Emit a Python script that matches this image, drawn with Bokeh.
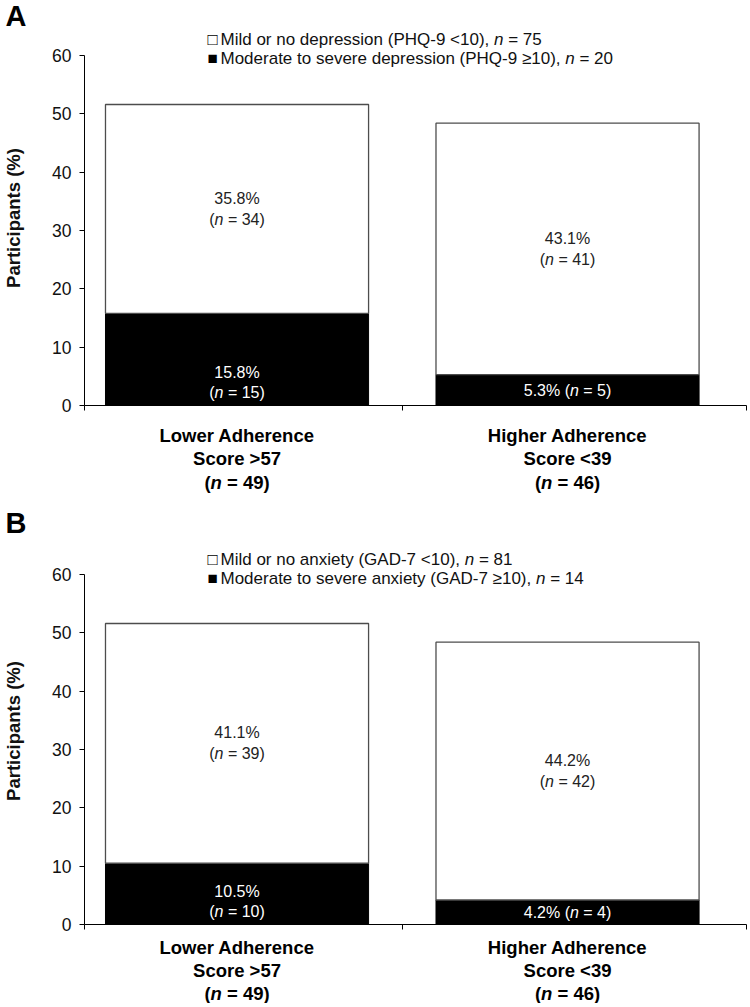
from bokeh.plotting import figure
from bokeh.models import Range1d, Label, FixedTicker, ColumnDataSource
from bokeh.layouts import column
from bokeh.embed import file_html
from bokeh.resources import INLINE

FONT = "Liberation Sans"

# ---------------- data ----------------
categories = ["Lower Adherence", "Higher Adherence"]
score_labels = ["Score >57", "Score <39"]
group_n = [49, 46]
y_ticks = [0, 10, 20, 30, 40, 50, 60]

a_letter = "A"
a_mild_name = "Mild or no depression (PHQ-9 <10), "
a_mod_name = "Moderate to severe depression (PHQ-9 \u226510), "
a_mild_total = 75
a_mod_total = 20
a_mild_pct = [35.8, 43.1]
a_mild_n = [34, 41]
a_mod_pct = [15.8, 5.3]
a_mod_n = [15, 5]

b_letter = "B"
b_mild_name = "Mild or no anxiety (GAD-7 <10), "
b_mod_name = "Moderate to severe anxiety (GAD-7 \u226510), "
b_mild_total = 81
b_mod_total = 14
b_mild_pct = [41.1, 44.2]
b_mild_n = [39, 42]
b_mod_pct = [10.5, 4.2]
b_mod_n = [10, 4]

# ---------------- text metrics (Arial / Liberation Sans, per 1000 em) ----------------
REG = {' ': 278, '(': 333, ')': 333, ',': 278, '-': 333, '.': 278, '<': 584, '=': 584, '>': 584,
       '%': 889, '\u2265': 549, 'A': 667, 'B': 667, 'C': 722, 'D': 722, 'E': 667, 'G': 778, 'H': 722,
       'L': 556, 'M': 833, 'P': 667, 'Q': 778, 'S': 667, 'a': 556, 'b': 556, 'c': 500, 'd': 556,
       'e': 556, 'f': 278, 'g': 556, 'h': 556, 'i': 222, 'j': 222, 'k': 500, 'l': 222, 'm': 833,
       'n': 556, 'o': 556, 'p': 556, 'q': 556, 'r': 333, 's': 500, 't': 278, 'u': 556, 'v': 500,
       'w': 722, 'x': 500, 'y': 500, 'z': 500}
BOLD = {' ': 278, '(': 333, ')': 333, '=': 584, '<': 584, '>': 584, '%': 889, 'A': 722, 'H': 722,
        'L': 611, 'S': 667, 'P': 667, 'a': 556, 'c': 556, 'd': 611, 'e': 556, 'g': 611, 'h': 611,
        'i': 278, 'n': 611, 'o': 611, 'r': 389, 's': 556, 't': 333, 'w': 778, 'p': 611}
for _d in "0123456789":
    REG[_d] = 556
    BOLD[_d] = 556


def text_width(s, bold, fs):
    table = BOLD if bold else REG
    return sum(table.get(c, 556) for c in s) * fs / 1000.0


def rich_label(p, x, y, parts, fs, bold, color, align, x_off, y_off):
    widths = [text_width(t, bold, fs) for t, _ in parts]
    total = sum(widths)
    cur = x_off - total / 2.0 if align == "center" else x_off
    for (t, it), w in zip(parts, widths):
        lead = len(t) - len(t.lstrip(" "))
        s = t.strip(" ")
        if s:
            if bold and it:
                style = "bold italic"
            elif bold:
                style = "bold"
            elif it:
                style = "italic"
            else:
                style = "normal"
            p.add_layout(Label(x=x, y=y, x_offset=cur + text_width(" " * lead, bold, fs),
                               y_offset=y_off, text=s, text_align="left", text_baseline="middle",
                               text_font=FONT, text_font_size=f"{fs}px", text_font_style=style,
                               text_color=color))
        cur += w


W = 748
BORDER_L = 82
PX_PER_UNIT = 331.5
X_LO = 0.0385
X_END = X_LO + (W - BORDER_L) / PX_PER_UNIT
X_TICK_HI = 2.0415
XS = [0.5, 1.5]
BAR_W = 0.796
Y_PX = 350 / 60.0


def blank_fig(height, x_range, y_range, border_left, align_frame):
    f = figure(width=W, height=height, output_backend="svg", toolbar_location=None,
               x_range=x_range, y_range=y_range, x_axis_type=None, y_axis_type=None,
               min_border_left=border_left, min_border_right=0, min_border_top=0,
               min_border_bottom=0, frame_align=align_frame)
    f.title.visible = False
    f.outline_line_color = None
    f.xgrid.visible = False
    f.ygrid.visible = False
    f.background_fill_color = "white"
    f.border_fill_color = "white"
    return f


def make_panel(letter, head_h, letter_mid, top_extra_px, legend_offs, foot_h, foot_lines,
               mild_name, mild_total, mod_name, mod_total, mild_pct, mild_n, mod_pct, mod_n):
    xr = Range1d(X_LO, X_END)

    # header with panel letter (pixel coordinates over the full width, y measured from top)
    head = blank_fig(head_h, Range1d(0, W), Range1d(-head_h, 0), 0, False)
    head.add_layout(Label(x=5, y=-letter_mid, text=letter,
                          text_align="left", text_baseline="middle", text_font=FONT,
                          text_font_size="29px", text_font_style="bold", text_color="black"))

    # main chart
    y_top = 60 + top_extra_px / Y_PX
    frame_h = int(round(y_top * Y_PX))
    p = figure(width=W, height=frame_h + 10, output_backend="svg", toolbar_location=None,
               x_range=xr, y_range=Range1d(0, y_top),
               min_border_left=BORDER_L, min_border_right=0, min_border_top=0,
               min_border_bottom=10)
    p.background_fill_color = "white"
    p.border_fill_color = "white"
    p.outline_line_color = None
    p.xgrid.visible = False
    p.ygrid.visible = False

    src = ColumnDataSource(dict(
        x=XS,
        mod_top=mod_pct,
        mild_top=[m + w for m, w in zip(mod_pct, mild_pct)],
    ))
    p.vbar(x="x", width=BAR_W, bottom=0, top="mod_top", source=src,
           fill_color="black", line_color="black", line_width=1)
    p.vbar(x="x", width=BAR_W, bottom="mod_top", top="mild_top", source=src,
           fill_color="white", line_color="#4d4d4d", line_width=1.3)

    ya = p.yaxis[0]
    ya.ticker = FixedTicker(ticks=y_ticks)
    ya.bounds = (0, 60)
    ya.axis_line_color = "black"
    ya.major_tick_line_color = "black"
    ya.major_tick_out = 5
    ya.major_tick_in = 0
    ya.minor_tick_out = 0
    ya.minor_tick_in = 0
    ya.major_label_standoff = 8
    ya.major_label_text_font = FONT
    ya.major_label_text_font_size = "17.5px"
    ya.major_label_text_color = "#111111"
    ya.axis_label = "Participants (%)"
    ya.axis_label_text_font = FONT
    ya.axis_label_text_font_style = "bold"
    ya.axis_label_text_font_size = "18.5px"
    ya.axis_label_text_color = "#111111"
    ya.axis_label_standoff = 25

    xa = p.xaxis[0]
    xa.ticker = FixedTicker(ticks=[X_LO, 1.0, X_TICK_HI])
    xa.bounds = (X_LO, X_TICK_HI)
    xa.axis_line_color = "black"
    xa.major_tick_line_color = "black"
    xa.major_tick_out = 5
    xa.major_tick_in = 0
    xa.minor_tick_out = 0
    xa.minor_tick_in = 0
    xa.major_label_text_font_size = "1px"
    xa.major_label_text_color = None
    xa.major_label_standoff = 0

    # legend (inside the frame, above the bars)
    for sym, name, tot, yo in (("\u25a1", mild_name, mild_total, legend_offs[0]),
                               ("\u25a0", mod_name, mod_total, legend_offs[1])):
        p.add_layout(Label(x=X_LO, y=60, x_offset=123, y_offset=yo, text=sym,
                           text_align="left", text_baseline="middle", text_font=FONT,
                           text_font_size="17px", text_color="black"))
        rich_label(p, X_LO, 60, [(name, False), ("n", True), (f" = {tot}", False)],
                   17, False, "#111111", "left", 136, yo)

    # bar value labels
    for i, x in enumerate(XS):
        mid = mod_pct[i] + mild_pct[i] / 2.0
        rich_label(p, x, mid, [(f"{mild_pct[i]:.1f}%", False)], 16, False, "#222222",
                   "center", 0, 10.5)
        rich_label(p, x, mid, [("(", False), ("n", True), (f" = {mild_n[i]})", False)], 16,
                   False, "#222222", "center", 0, -10.5)
        if mod_pct[i] >= 8:
            rich_label(p, x, 0, [(f"{mod_pct[i]:.1f}%", False)], 16, False, "white",
                       "center", 0, 33.5)
            rich_label(p, x, 0, [("(", False), ("n", True), (f" = {mod_n[i]})", False)], 16,
                       False, "white", "center", 0, 13.5)
        else:
            rich_label(p, x, mod_pct[i] / 2.0,
                       [(f"{mod_pct[i]:.1f}% (", False), ("n", True), (f" = {mod_n[i]})", False)],
                       16, False, "white", "center", 0, 0)

    # footer with category labels
    foot = blank_fig(foot_h, xr, Range1d(-foot_h, 0), BORDER_L, True)
    for i, x in enumerate(XS):
        rich_label(foot, x, 0, [(categories[i], False)], 18.5, True, "black", "center", 0,
                   -foot_lines[0])
        rich_label(foot, x, 0, [(score_labels[i], False)], 18.5, True, "black", "center", 0,
                   -foot_lines[1])
        rich_label(foot, x, 0, [("(", False), ("n", True), (f" = {group_n[i]})", False)], 18.5,
                   True, "black", "center", 0, -foot_lines[2])
    return [head, p, foot]


panel_a = make_panel(a_letter, 30, 15, 25, (16, -3), 92, (20, 43, 67),
                     a_mild_name, a_mild_total, a_mod_name, a_mod_total,
                     a_mild_pct, a_mild_n, a_mod_pct, a_mod_n)
panel_b = make_panel(b_letter, 30, 15, 37, (15, -4), 69, (13, 36, 59),
                     b_mild_name, b_mild_total, b_mod_name, b_mod_total,
                     b_mild_pct, b_mild_n, b_mod_pct, b_mod_n)

layout = column(*panel_a, *panel_b, spacing=0)
open("out.html", "w").write(file_html(layout, INLINE))
